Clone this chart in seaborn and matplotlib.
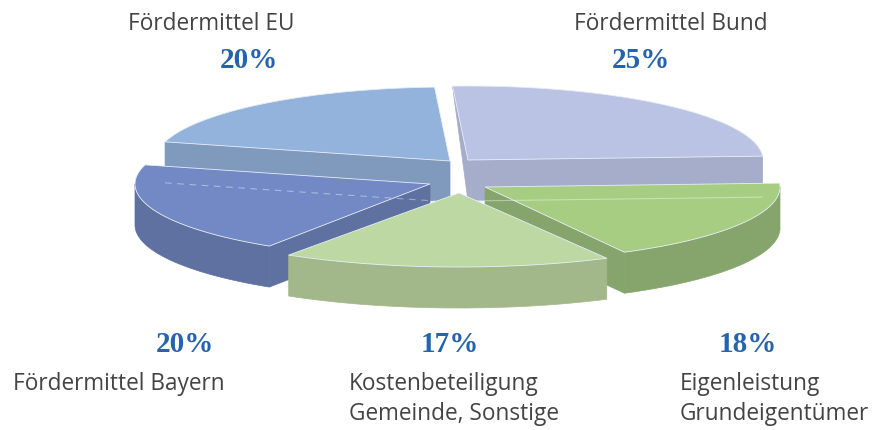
import numpy as np
import matplotlib
matplotlib.use("Agg")
import matplotlib.pyplot as plt
from matplotlib.patches import Polygon
import seaborn as sns

# Data
categories = ["Fördermittel Bund", "Eigenleistung\nGrundeigentümer",
              "Kostenbeteiligung\nGemeinde, Sonstige", "Fördermittel Bayern", "Fördermittel EU"]
values = [25, 18, 17, 20, 20]

# Styles
top_colors = sns.color_palette(["#BAC3E3", "#A6CD82", "#BDD8A3", "#7289C5", "#93B2DC"])
wall_colors = sns.color_palette(["#A6ADCB", "#85A56D", "#A2B88B", "#5F71A0", "#7F9ABD"])
text_color = "#444444"
pct_color = "#2663AC"

# Layout (pixels of the figure)
start_angle = 93.0
radius_x, radius_y, depth = 295.0, 74.0, 41.0
radius_x_scale = [1.0, 1.0, 1.06, 1.0, 1.0]  # the front slice looks wider in perspective
centre = np.array([459.0, 176.0])
explode = [(9, -15), (26, 12), (0, 18), (-29, 9), (-9, -14)]
draw_order = [4, 0, 3, 1, 2]
pct_xy = [(641, 61), (748, 345), (450, 345), (185, 345), (249, 61)]
name_xy = [(574, 24), (680, 399), (349, 399), (13, 384), (128, 24)]

sns.set_theme(style="white")
plt.rcParams["font.family"] = ["Open Sans", "DejaVu Sans"]
fig = plt.figure(figsize=(8.77, 4.31), dpi=100, facecolor="white")
ax = fig.add_axes([0, 0, 1, 1])
ax.set_xlim(0, 877)
ax.set_ylim(431, 0)
ax.axis("off")


def rim(i, a0, a1, n=120):
    apex = centre + np.array(explode[i], float)
    t = np.radians(np.linspace(a0, a1, n))
    rx = radius_x * radius_x_scale[i]
    return np.column_stack([apex[0] + rx * np.cos(t), apex[1] - radius_y * np.sin(t)])


def edge_depth(angle):
    # far edges recede: their wall shrinks towards the back of the pie
    return depth * (1 - max(0.0, np.sin(np.radians(angle))) ** 4)


shares = np.asarray(values, float) / np.sum(values)
bounds = start_angle - 360 * np.concatenate([[0], np.cumsum(shares)])
down = np.array([0.0, 1.0])

for z, i in enumerate(draw_order):
    a0, a1 = bounds[i], bounds[i + 1]  # a0 > a1, clockwise
    apex = centre + np.array(explode[i], float)
    base_z = z * 10 + 2
    wall_kw = dict(facecolor=wall_colors[i], edgecolor=wall_colors[i], lw=0.5, zorder=base_z)
    # radial walls that face the viewer
    for ang, ext in ((a0, a0 + 90), (a1, a1 - 90)):
        if np.sin(np.radians(ext)) < 0:
            p = rim(i, ang, ang, 1)[0]
            ax.add_patch(Polygon([p, apex, apex + down * depth, p + down * edge_depth(ang)], **wall_kw))
    # front rim wall, only where the rim faces the viewer
    w0, w1 = max(a1, -180.0), min(a0, 0.0)
    if w1 > w0:
        r = rim(i, w0, w1)
        ax.add_patch(Polygon(np.vstack([r, (r + down * depth)[::-1]]), **wall_kw))
    # top face
    top = np.vstack([[apex], rim(i, a0, a1)])
    ax.add_patch(Polygon(top, facecolor=top_colors[i], edgecolor="#E8EEF6", lw=0.6,
                         joinstyle="round", zorder=base_z + 1))

# faint ghost lines of hidden wall bottoms: EU along its left edge, Bund along its right edge
for i, a, style in ((4, bounds[4], (0, (6, 5))), (0, bounds[1], "-")):
    apex = centre + np.array(explode[i], float)
    p = rim(i, a, a, 1)[0]
    ax.plot([p[0], apex[0]], [p[1] + depth, apex[1] + depth], color="white", lw=0.8, alpha=0.4,
            ls=style, zorder=35)

# labels
for name, v, (nx, ny), (px, py) in zip(categories, values, name_xy, pct_xy):
    ax.text(nx, ny, name, ha="left", va="center", fontsize=16.3, color=text_color,
            linespacing=1.36, zorder=60)
    ax.text(px, py, f"{v}%", ha="center", va="center", fontsize=21, fontweight="bold",
            family=["Liberation Serif", "DejaVu Serif"], color=pct_color, zorder=60)

fig.savefig("out.png", dpi=100, facecolor="white")
